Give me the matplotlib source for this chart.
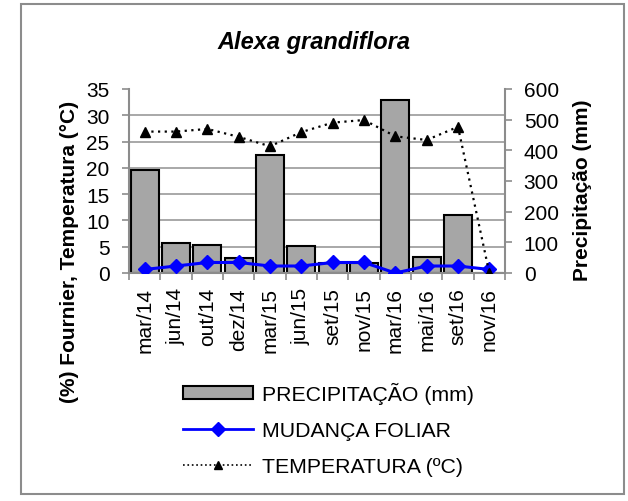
import numpy as np
import matplotlib
matplotlib.use('Agg')
import matplotlib.pyplot as plt
from matplotlib.patches import Rectangle, Patch
from matplotlib.lines import Line2D

plt.rcParams['font.family'] = ['Liberation Sans', 'DejaVu Sans']

meses = ['mar/14', 'jun/14', 'out/14', 'dez/14', 'mar/15', 'jun/15',
         'set/15', 'nov/15', 'mar/16', 'mai/16', 'set/16', 'nov/16']
precipitacao = [337, 98, 91, 48, 386, 87, 32, 33, 564, 51, 189, 0]
mudanca_foliar = [0.67, 1.33, 2.0, 2.0, 1.33, 1.33, 2.0, 2.0, 0.0, 1.33, 1.33, 0.67]
temperatura = [26.9, 26.9, 27.4, 25.9, 24.1, 26.8, 28.6, 29.1, 26.0, 25.3, 27.8, 0.0]

W, H = 628, 502
fig = plt.figure(figsize=(W / 100, H / 100), dpi=100)

# borda do grafico
fig.patches.append(Rectangle((21 / W, 1 - 495 / H), 603 / W, 490 / H,
                             transform=fig.transFigure, fill=False,
                             edgecolor='#8c8c8c', linewidth=1.5))

ax = fig.add_axes([129 / W, 1 - 274 / H, 376 / W, 184 / H])
ax2 = ax.twinx()
ax.set_zorder(ax2.get_zorder() + 1)
ax.patch.set_visible(False)

x = np.arange(len(meses))
gray = '#8c8c8c'

# barras de precipitacao (eixo direito)
ax2.bar(x, precipitacao, width=0.9, color='#a6a6a6', edgecolor='black',
        linewidth=1.5, zorder=2)
ax2.set_ylim(0, 600)
ax2.set_yticks(np.arange(0, 601, 100))
# linhas de grade seguindo o eixo esquerdo (0-35)
ax2.set_yticks(np.arange(5, 36, 5) * 600 / 35, minor=True)
ax2.grid(which='minor', axis='y', color='#999999', linewidth=1.2, zorder=0)
ax2.set_axisbelow(True)
ax2.tick_params(axis='y', which='minor', length=0)
ax2.tick_params(axis='y', which='major', labelsize=15, length=5,
                width=1.2, color=gray, pad=8.5)

# linhas (eixo esquerdo)
ax.plot(x, mudanca_foliar, color='#0000ff', linewidth=2.2, marker='D',
        markersize=7, zorder=3)
ax.plot(x, temperatura, color='black', linewidth=1.6, linestyle=(0, (1, 2)),
        marker='^', markersize=7, zorder=3)
ax.set_ylim(0, 35)
ax.set_yticks(np.arange(0, 36, 5))
ax.tick_params(axis='y', labelsize=15, length=5, width=1.2, color=gray, pad=9)

ax.set_xlim(-0.5, len(meses) - 0.5)
ax.set_xticks(x)
ax.set_xticklabels(meses, rotation=90)
ax.set_xticks(np.arange(-0.5, len(meses), 1), minor=True)
ax.tick_params(axis='x', which='major', length=0, labelsize=15, pad=10)
ax.tick_params(axis='x', which='minor', length=5, width=1.2, color=gray)

for a in (ax, ax2):
    for s in a.spines.values():
        s.set_visible(False)
ax.spines['left'].set_visible(True)
ax.spines['bottom'].set_visible(True)
ax2.spines['right'].set_visible(True)
for a, s in ((ax, 'left'), (ax, 'bottom'), (ax2, 'right')):
    a.spines[s].set_color(gray)
    a.spines[s].set_linewidth(1.5)

fig.text(314 / W, 1 - 42 / H, 'Alexa grandiflora', ha='center', va='center',
         fontsize=17, fontweight='bold', fontstyle='italic')
fig.text(70 / W, 1 - 252 / H, '(%) Fournier, Temperatura (°C)', rotation=90,
         ha='center', va='center', fontsize=15, fontweight='bold')
fig.text(582 / W, 1 - 190 / H, 'Precipitação (mm)', rotation=90,
         ha='center', va='center', fontsize=15, fontweight='bold')

handles = [
    Patch(facecolor='#a6a6a6', edgecolor='black', linewidth=1.5),
    Line2D([], [], color='#0000ff', linewidth=2, marker='D', markersize=7),
    Line2D([], [], color='black', linewidth=1.2, linestyle=':', marker='^',
           markersize=6),
]
labels = ['PRECIPITAÇÃO (mm)', 'MUDANÇA FOLIAR', 'TEMPERATURA (ºC)']
fig.legend(handles, labels, loc='upper left',
           bbox_to_anchor=(183 / W, 1 - 383 / H), frameon=False, fontsize=15.3,
           handlelength=3.3, handleheight=0.55, handletextpad=0.4,
           labelspacing=0.8, borderpad=0, borderaxespad=0)

fig.savefig('out.png', dpi=100)
